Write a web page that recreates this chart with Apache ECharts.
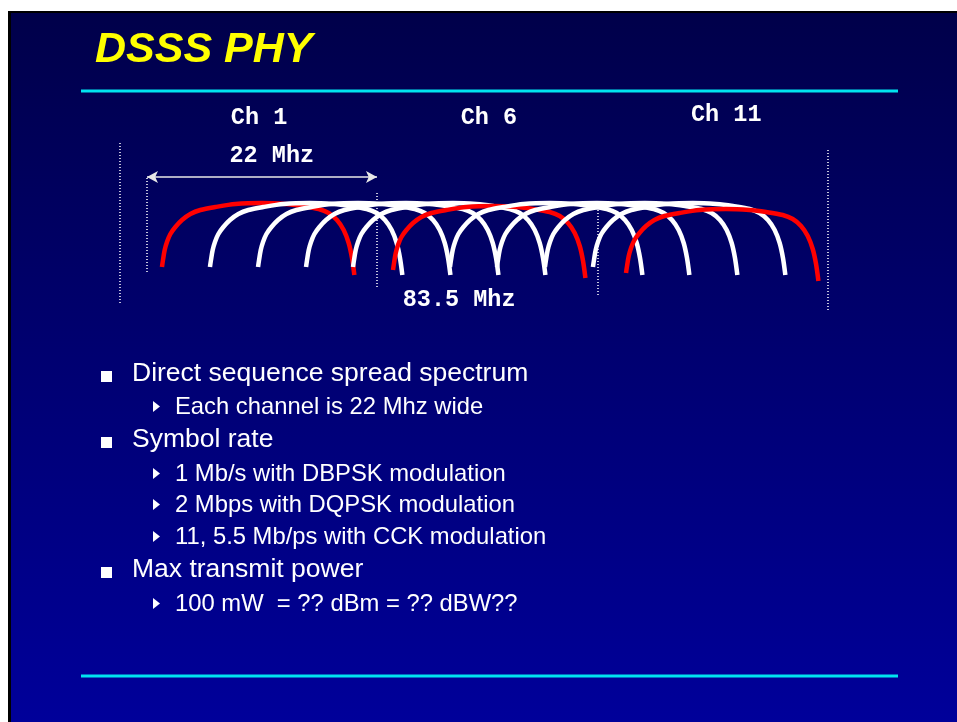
<!DOCTYPE html>
<html>
<head>
<meta charset="utf-8" />
<title>DSSS PHY</title>
<script src="https://cdn.jsdelivr.net/npm/echarts/dist/echarts.min.js"></script>
<style>
html, body { margin: 0; padding: 0; background: #fff; }
#main { width: 957px; height: 722px; }
</style>
</head>
<body>
<div id="main"></div>
<script>
// channels, left foot of each mask (MHz above 2400, as drawn on the slide)
var CHANNELS = ['Ch 1', 'Ch 2', 'Ch 3', 'Ch 4', 'Ch 5', 'Ch 6', 'Ch 7', 'Ch 8', 'Ch 9', 'Ch 10', 'Ch 11'];
var CH_START = [4.95, 10.61, 16.28, 21.94, 27.48, 32.20, 38.92, 44.46, 50.12, 55.78, 59.68];
var CH_LIFT  = [0, 0, 0, 0, 0, -3, 0, 0, 0, 0, -6];
var RED_CHANNELS = ['Ch 1', 'Ch 6', 'Ch 11'];

// shape of one spectral mask
var MASK_DX    = [0, 0.12, 0.32, 0.59, 0.99, 1.58, 2.36, 3.35, 4.53, 6.30, 8.66, 11.79,
                  14.55, 16.51, 18.48, 19.66, 20.64, 21.43, 22.02, 22.41, 22.69];
var MASK_LEVEL = [63, 70, 80, 88, 96, 103, 110, 116, 120, 123, 126, 127,
                  126, 124, 121, 117, 110, 100, 87, 72, 55];

// labels
var LABELS   = ['Ch 1', 'Ch 6', 'Ch 11'];
var LABEL_X  = [16.4, 43.5, 71.5];
var LABEL_Y  = [212, 212, 215];
var WIDTH_LABEL = ['22 Mhz', 17.9, 174];
var BAND_LABEL  = ['83.5 Mhz', 40.0, 30];

// dotted markers [x, yTop, yBottom]
var MARKERS = [[0, 187, 27], [3.18, 152, 57], [30.31, 137, 43], [56.37, 120, 35], [83.5, 180, 20]];
var ARROW = [3.18, 30.31, 153];

var BULLETS = [
	[0, 'Direct sequence spread spectrum', 382],
	[1, 'Each channel is 22 Mhz wide', 414],
	[0, 'Symbol rate', 448],
	[1, '1 Mb/s with DBPSK modulation', 481],
	[1, '2 Mbps with DQPSK modulation', 512],
	[1, '11, 5.5 Mb/ps with CCK modulation', 544],
	[0, 'Max transmit power', 578],
	[1, '100 mW  = ?? dBm = ?? dBW??', 611]
];

var chart = echarts.init(document.getElementById('main'));

var series = CHANNELS.map(function (name, c) {
	var red = RED_CHANNELS.indexOf(name) >= 0;
	return {
		name: name,
		type: 'line',
		smooth: 0.3,
		showSymbol: false,
		silent: true,
		clip: false,
		lineStyle: { color: red ? '#ff0000' : '#ffffff', width: 4.5, cap: 'butt' },
		data: MASK_DX.map(function (d, i) {
			return [CH_START[c] + d, MASK_LEVEL[i] + CH_LIFT[c]];
		})
	};
});

series.push({
	type: 'line',
	data: [],
	silent: true,
	markLine: {
		silent: true,
		symbol: ['none', 'none'],
		label: { show: false },
		lineStyle: { color: '#ffffff', width: 1.5, type: [1, 2] },
		data: MARKERS.map(function (m) {
			return [{ coord: [m[0], m[1]] }, { coord: [m[0], m[2]] }];
		})
	}
});

series.push({
	type: 'line',
	data: [],
	silent: true,
	markLine: {
		silent: true,
		symbol: ['arrow', 'arrow'],
		symbolSize: [9, 11],
		label: { show: false },
		lineStyle: { color: '#e8e8e8', width: 1.5, type: 'solid' },
		data: [[{ coord: [ARROW[0], ARROW[2]] }, { coord: [ARROW[1], ARROW[2]] }]]
	}
});

var labelData = LABELS.map(function (t, i) {
	return { name: t, value: [LABEL_X[i], LABEL_Y[i]] };
});
labelData.push({ name: WIDTH_LABEL[0], value: [WIDTH_LABEL[1], WIDTH_LABEL[2]] });
labelData.push({ name: BAND_LABEL[0], value: [BAND_LABEL[1], BAND_LABEL[2]] });

series.push({
	type: 'scatter',
	symbolSize: 1,
	silent: true,
	itemStyle: { color: 'transparent', opacity: 1 },
	label: {
		show: true,
		position: 'inside',
		formatter: '{b}',
		color: '#ffffff',
		opacity: 1,
		textBorderWidth: 0,
		fontFamily: 'Liberation Mono',
		fontWeight: 'bold',
		fontSize: 23.5
	},
	data: labelData
});

// slide frame, title and bullet text
var elements = [
	{ type: 'rect', z: -30, shape: { x: 8, y: 11, width: 949, height: 711 }, style: { fill: '#000000' } },
	{ type: 'rect', z: -20, shape: { x: 11, y: 13, width: 946, height: 709 },
	  style: { fill: new echarts.graphic.LinearGradient(0, 0, 0, 1, [
		{ offset: 0, color: '#00004a' },
		{ offset: 1, color: '#00009a' }
	  ]) } },
	{ type: 'line', z: 5, shape: { x1: 81, y1: 91, x2: 898, y2: 91 }, style: { stroke: '#00e4f0', lineWidth: 3 } },
	{ type: 'line', z: 5, shape: { x1: 81, y1: 676, x2: 898, y2: 676 }, style: { stroke: '#00e4f0', lineWidth: 3 } },
	{ type: 'text', z: 5, x: 95, y: 50,
	  style: { text: 'DSSS PHY', fill: '#ffff00', font: 'italic bold 43px "Liberation Sans", Arial',
	           textAlign: 'left', textVerticalAlign: 'middle', align: 'left', verticalAlign: 'middle' } }
];

BULLETS.forEach(function (b) {
	var lvl = b[0], base = b[2];
	if (lvl === 0) {
		elements.push({ type: 'rect', z: 5, shape: { x: 101, y: base - 11, width: 11, height: 11 }, style: { fill: '#ffffff' } });
		elements.push({ type: 'text', z: 5, x: 132, y: base - 8,
			style: { text: b[1], fill: '#ffffff', font: '26.5px "Liberation Sans", Arial',
			         textAlign: 'left', textVerticalAlign: 'middle', align: 'left', verticalAlign: 'middle' } });
	} else {
		elements.push({ type: 'polygon', z: 5, shape: { points: [[153, base - 13], [160, base - 7.5], [153, base - 2]] }, style: { fill: '#ffffff' } });
		elements.push({ type: 'text', z: 5, x: 175, y: base - 7,
			style: { text: b[1], fill: '#ffffff', font: '23.8px "Liberation Sans", Arial',
			         textAlign: 'left', textVerticalAlign: 'middle', align: 'left', verticalAlign: 'middle' } });
	}
});

var option = {
	animation: false,
	backgroundColor: '#ffffff',
	graphic: { elements: elements },
	grid: { left: 120, right: 129, top: 100, bottom: 392 },
	xAxis: { type: 'value', min: 0, max: 83.5, show: false },
	yAxis: { type: 'value', min: 0, max: 230, show: false },
	series: series
};

chart.setOption(option);
</script>
</body>
</html>
